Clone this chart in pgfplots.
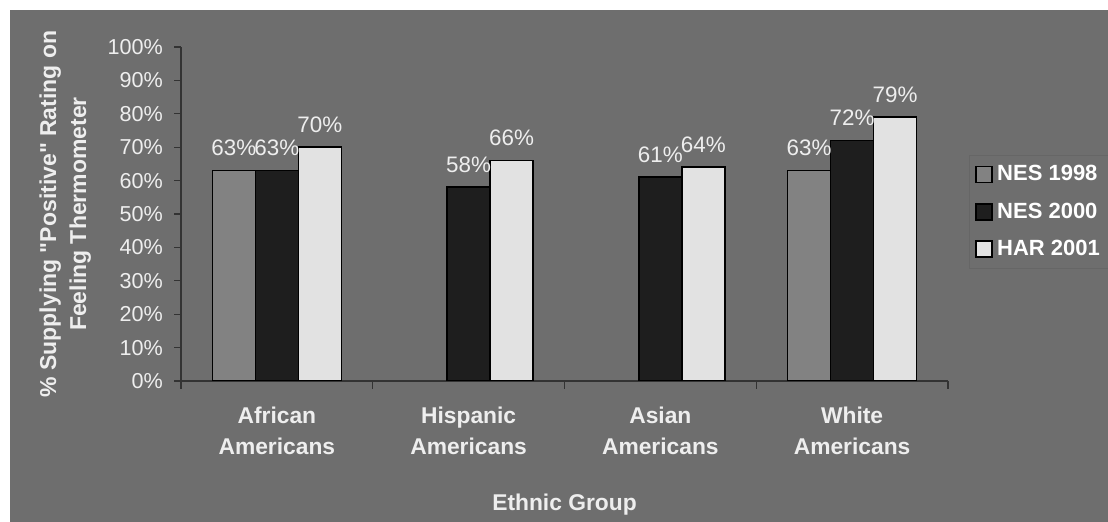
\documentclass[border=0pt]{standalone}
\usepackage{pgfplots}
\pgfplotsset{compat=1.18}
\usepackage{fontspec}
\setmainfont{Liberation Sans}[Ligatures=TeXOff]
\definecolor{bg}{HTML}{6E6E6E}
\definecolor{cA}{HTML}{828282}
\definecolor{cB}{HTML}{1E1E1E}
\definecolor{cC}{HTML}{E2E2E2}
\definecolor{txt}{HTML}{EEEEEE}
\pgfplotsset{mylegend/.style={legend image code/.code={\draw[##1,line width=0.9pt] (0pt,-4pt) rectangle (8pt,4pt);}}}
\begin{document}
\begin{tikzpicture}
\useasboundingbox (0,0) rectangle (554pt,261pt);
\fill[bg] (5pt,0) rectangle (554pt,256pt);
\begin{axis}[
  at={(90.5pt,70.5pt)}, anchor=south west,
  width=383.5pt, height=167pt, scale only axis,
  xmin=-0.5, xmax=3.5, ymin=0, ymax=100,
  ybar=0pt, bar width=21.5pt,
  axis x line*=bottom, axis y line*=left,
  axis line style={draw=black!80, line width=0.6pt},
  /pgf/number format/assume math mode=true,
  ytick={0,10,...,100},
  yticklabels={0\%,10\%,20\%,30\%,40\%,50\%,60\%,70\%,80\%,90\%,100\%},
  yticklabel style={font=\fontsize{10.8}{12}\selectfont, text=txt, xshift=-2pt},
  ytick style={draw=black!80, line width=0.6pt},
  tick align=outside,
  major tick length=3.5pt,
  xtick={0,1,2,3},
  xticklabels={African\\Americans,Hispanic\\Americans,Asian\\Americans,White\\Americans},
  xticklabel style={align=center, font=\bfseries\fontsize{11.4}{15.5}\selectfont, text=txt, yshift=-6pt},
  major x tick style={draw=none},
  minor xtick={-0.5,0.5,1.5,2.5,3.5},
  minor x tick style={draw=black!80, line width=0.6pt},
  minor tick length=4pt,
  xlabel={Ethnic Group},
  every axis x label/.style={at={(axis description cs:0.5,-0.371)}, anchor=center, font=\bfseries\fontsize{11.4}{13}\selectfont, text=txt},
  ylabel={\% Supplying "Positive" Rating on\\Feeling Thermometer},
  every axis y label/.style={at={(axis description cs:-0.151,0.5)}, rotate=90, anchor=center, align=center, font=\bfseries\fontsize{11.5}{15}\selectfont, text=txt},
  nodes near coords={\pgfmathprintnumber{\pgfplotspointmeta}\%},
  every node near coord/.append style={font=\fontsize{11.2}{12}\selectfont, text=txt, yshift=3.5pt},
  legend style={at={(axis description cs:1.0274,0.6766)}, anchor=north west, fill=bg, draw=black!60, text=white, font=\bfseries\fontsize{11}{13}\selectfont, row sep=5.5pt, inner sep=3pt, cells={anchor=west}},
]
\addplot[fill=cA, draw=black, line width=0.8pt, mylegend] coordinates {(0,63) (3,63)};
\addplot[fill=cB, draw=black, line width=0.8pt, mylegend] coordinates {(0,63) (1,58) (2,61) (3,72)};
\addplot[fill=cC, draw=black, line width=0.8pt, mylegend] coordinates {(0,70) (1,66) (2,64) (3,79)};
\legend{\makebox[64pt][l]{NES 1998}, \makebox[64pt][l]{NES 2000}, \makebox[64pt][l]{HAR 2001}}
\end{axis}
\end{tikzpicture}
\end{document}
